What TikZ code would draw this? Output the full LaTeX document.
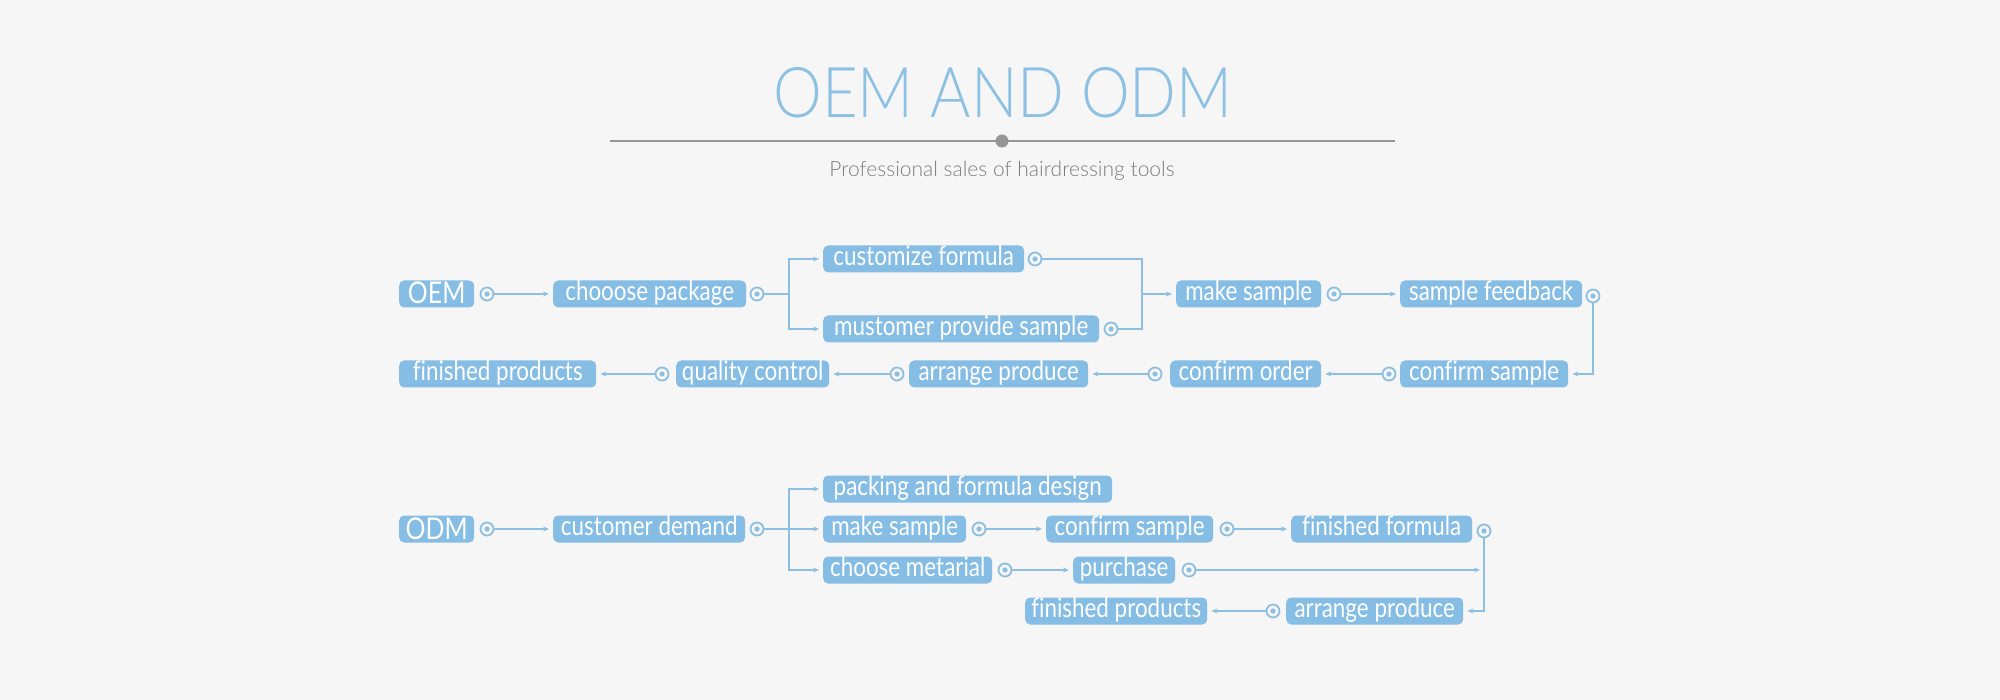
\documentclass[tikz,border=0pt]{standalone}
\usepackage{fontspec}
\setmainfont{Lato}[FakeStretch=0.83,Ligatures=CommonOff]
\newfontfamily\lightfont{Lato Light}[FakeStretch=0.88]
\newfontfamily\subfont{Lato Light}
\usetikzlibrary{arrows.meta}
\definecolor{bg}{RGB}{246,246,246}
\definecolor{boxc}{RGB}{134,189,228}
\definecolor{linec}{RGB}{141,191,226}
\definecolor{titlec}{RGB}{141,193,228}
\definecolor{grayc}{RGB}{150,150,150}
\definecolor{subc}{RGB}{125,125,125}
\begin{document}
\begin{tikzpicture}[x=1pt,y=-1pt,
  box/.style={fill=boxc,text=white,rounded corners=5pt,minimum height=27pt,inner sep=0pt,anchor=west,
    font=\fontsize{27}{30}\selectfont,text height=17pt,text depth=4pt},
  bigbox/.style={box,font=\fontsize{30}{32}\selectfont,text height=20pt,text depth=0pt},
  mk/.style={circle,draw=linec,line width=1.8pt,fill=bg,minimum size=13pt,inner sep=0pt,
    path picture={\fill[linec] (path picture bounding box.center) circle (2.6pt);}},
  conn/.style={draw=linec,line width=1.5pt},
  arr/.style={conn,-{Stealth[length=6pt,width=5pt]},shorten >=4pt}]
\useasboundingbox (0,0) rectangle (2000,700);
\fill[bg] (0,0) rectangle (2000,700);

% title
\node[anchor=base,text=titlec,font=\lightfont\fontsize{70}{72}\selectfont,inner sep=0pt] (title) at (1003,118) {OEM AND ODM};
\coordinate (dl) at (610,141);
\coordinate (dr) at (1395,141);
\draw[grayc,line width=2pt] (dl) -- (dr);
\node[circle,fill=grayc,minimum size=13pt,inner sep=0pt] (dot) at (1002,141) {};
\node[anchor=base,text=subc,font=\subfont\fontsize{21}{24}\selectfont,inner sep=0pt] (sub) at (1002,177) {Professional sales of hairdressing tools};

% OEM
\node[bigbox,minimum width=75pt] (oem) at (399,294) {OEM};
\node[box,minimum width=193pt] (cp) at (553,294) {chooose package};
\node[box,minimum width=201pt] (cf) at (823,259) {customize formula};
\node[box,minimum width=276pt] (mps) at (823,329) {mustomer provide sample};
\node[box,minimum width=145pt] (ms) at (1176,294) {make sample};
\node[box,minimum width=182pt] (sf) at (1400,294) {sample feedback};
\node[box,minimum width=168pt] (cs) at (1400,374) {confirm sample};
\node[box,minimum width=151pt] (co) at (1170,374) {confirm order};
\node[box,minimum width=179pt] (ap) at (909,374) {arrange produce};
\node[box,minimum width=153pt] (qc) at (676,374) {quality control};
\node[box,minimum width=197pt] (fp) at (399,374) {finished products};

\node[mk] (moem) at (487,294) {};
\node[mk] (mcp) at (757,294) {};
\node[mk] (mcf) at (1035,259) {};
\node[mk] (mmps) at (1111,329) {};
\node[mk] (mms) at (1334,294) {};
\node[mk] (msf) at (1593,296) {};
\node[mk] (mcs) at (1389,374) {};
\node[mk] (mco) at (1155,374) {};
\node[mk] (map) at (897,374) {};
\node[mk] (mqc) at (662,374) {};
\coordinate (j1) at (789,294);
\coordinate (j2) at (1142,294);

\draw[arr] (moem) -- (cp);
\draw[conn] (mcp) -- (j1);
\draw[arr] (j1) |- (cf);
\draw[arr] (j1) |- (mps);
\draw[conn] (mcf) -| (j2);
\draw[conn] (mmps) -| (j2);
\draw[arr] (j2) -- (ms);
\draw[arr] (mms) -- (sf);
\draw[arr] (msf) |- (cs);
\draw[arr] (mcs) -- (co);
\draw[arr] (mco) -- (ap);
\draw[arr] (map) -- (qc);
\draw[arr] (mqc) -- (fp);

% ODM
\node[bigbox,minimum width=75pt] (odm) at (399,529) {ODM};
\node[box,minimum width=192pt] (cd) at (553,529) {customer demand};
\node[box,minimum width=289pt] (pfd) at (823,489) {packing and formula design};
\node[box,minimum width=143pt] (ms2) at (823,529) {make sample};
\node[box,minimum width=167pt] (cs2) at (1046,529) {confirm sample};
\node[box,minimum width=181pt] (ff) at (1291,529) {finished formula};
\node[box,minimum width=169pt] (cm) at (823,570) {choose metarial};
\node[box,minimum width=102pt] (pu) at (1073,570) {purchase};
\node[box,minimum width=177pt] (ap2) at (1286,611) {arrange produce};
\node[box,minimum width=182pt] (fp2) at (1025,611) {finished products};

\node[mk] (modm) at (487,529) {};
\node[mk] (mcd) at (757,529) {};
\node[mk] (mms2) at (979,529) {};
\node[mk] (mcs2) at (1227,529) {};
\node[mk] (mff) at (1484,531) {};
\node[mk] (mcm) at (1005,570) {};
\node[mk] (mpu) at (1189,570) {};
\node[mk] (map2) at (1273,611) {};
\coordinate (j3) at (789,529);
\coordinate (pend) at (1484,570);

\draw[arr] (modm) -- (cd);
\draw[conn] (mcd) -- (j3);
\draw[arr] (j3) |- (pfd);
\draw[arr] (j3) -- (ms2);
\draw[arr] (j3) |- (cm);
\draw[arr] (mms2) -- (cs2);
\draw[arr] (mcs2) -- (ff);
\draw[arr] (mcm) -- (pu);
\draw[arr] (mpu) -- (pend);
\draw[arr] (mff) |- (ap2);
\draw[arr] (map2) -- (fp2);
\end{tikzpicture}
\end{document}
